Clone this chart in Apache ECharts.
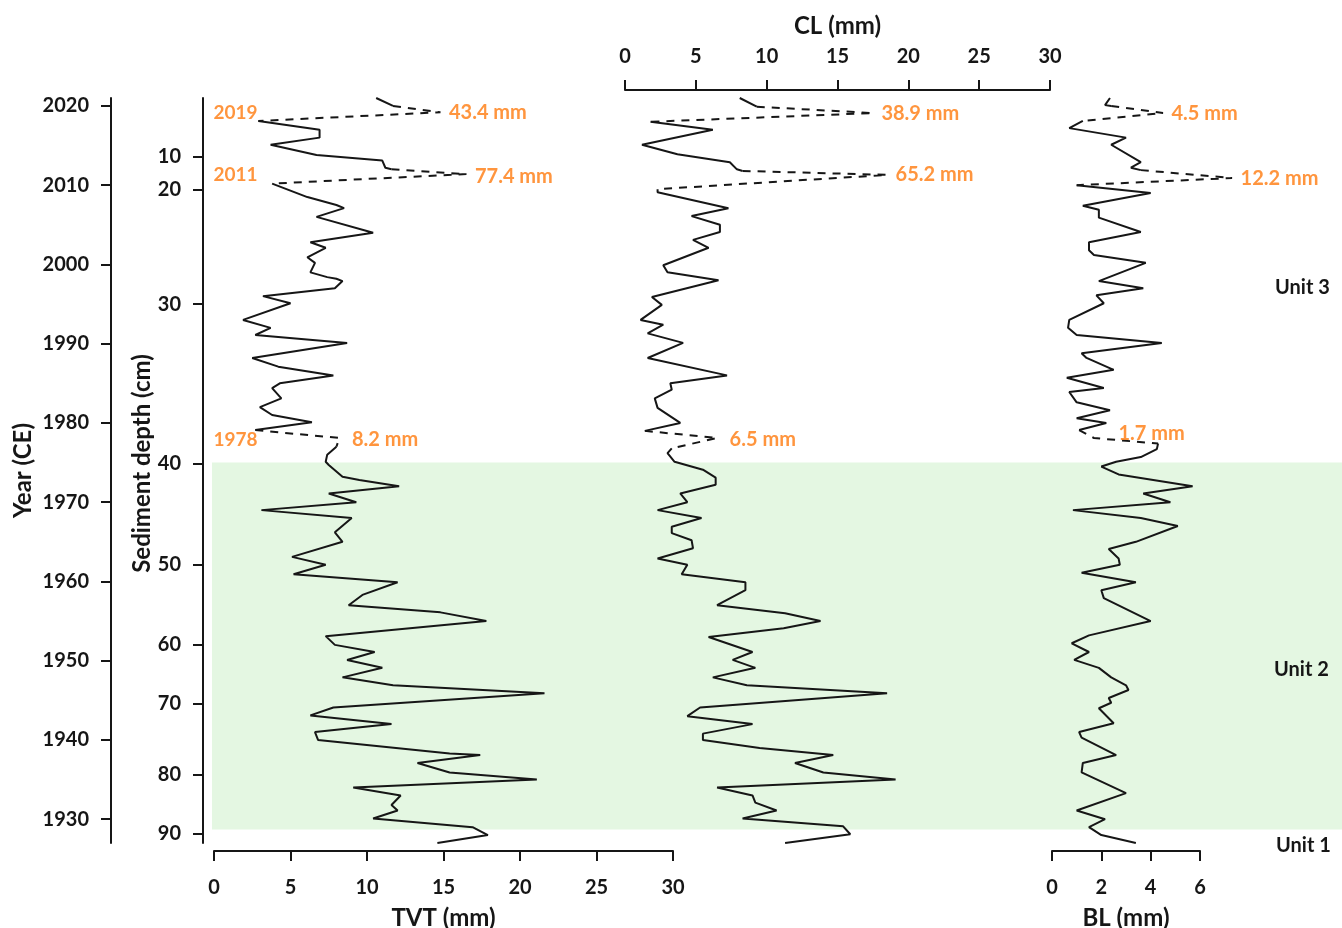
<!DOCTYPE html>
<html>
<head>
<meta charset="utf-8">
<script src="https://cdn.jsdelivr.net/npm/echarts@6/dist/echarts.min.js"></script>
<style>html,body{margin:0;padding:0;background:#fff}#c{width:1342px;height:928px}</style>
</head>
<body>
<div id="c"></div>
<script>
// ---------------- DATA ----------------
// Year (CE) axis ticks
const yearTicks = [1930, 1940, 1950, 1960, 1970, 1980, 1990, 2000, 2010, 2020];
// Sediment depth ticks (cm) and the age (CE) each depth corresponds to (age-depth model)
const depthTicks = [10, 20, 30, 40, 50, 60, 70, 80, 90];
const depthTickYears = [2013.6, 2009.4, 1995.0, 1974.9, 1962.1, 1952.0, 1944.6, 1935.6, 1928.2];

// Event layers
const eventYearLabels = ['2019', '2011', '1978'];
const eventLabelYears = [2019.1, 2011.3, 1977.9];
const tvtEventYears = [2019.2, 2011.4, 1978.1];
const clEventYears = [2019.1, 2011.3, 1978.1];
const blEventYears = [2019.1, 2010.9, 1978.1];
const tvtEventValues = [43.4, 77.4, 8.2];
const clEventValues = [38.9, 65.2, 6.5];
const blEventValues = [4.5, 12.2, 1.7];
// where the pointer of each event ends on the axis (off-scale values are clipped)
const tvtEventShown = [14.8, 16.5, 8.2];
const clEventShown = [17.5, 18.5, 6.5];
const blEventShown = [4.5, 7.3, 1.7];

// Unit 2 (shaded) boundaries in years CE
const unit2Top = 1975.0;
const unit2Bottom = 1928.7;
const unitNames = ['Unit 3', 'Unit 2', 'Unit 1'];

// TVT (mm); null = break at an event layer
const tvtYears = [2021.0, 2020.0, null,
  2018.1, 2017.0, 2016.0, 2015.1, 2013.8, 2013.1, 2012.2, 2012.0, null,
  2010.2, 2008.5, 2007.5, 2007.1, 2006.0, 2004.0, 2002.8, 2002.1, 2000.9, 2000.2, 1999.0, 1998.4, 1998.2, 1997.9, 1997.0, 1996.0, 1995.1, 1993.0, 1992.0, 1991.1, 1990.1, 1988.2, 1987.1, 1986.0, 1985.0, 1984.4, 1983.1, 1982.0, 1981.0, 1980.1, 1979.1, null,
  1977.0, 1976.0, 1975.1, 1974.7, 1973.2, 1972.8, 1972.0, 1971.1, 1970.0, 1969.0, 1968.0, 1966.2, 1965.0, 1963.1, 1962.1, 1960.9, 1959.9, 1958.3, 1957.0, 1956.1, 1955.0, 1953.1, 1952.0, 1951.1, 1950.1, 1949.1, 1947.9, 1946.9, 1945.9, 1944.1, 1943.1, 1942.0, 1941.0, 1940.0, 1938.3, 1938.1, 1937.1, 1935.9, 1935.0, 1934.0, 1933.0, 1931.8, 1931.1, 1930.1, 1929.0, 1928.0, 1927.0];
const tvtValues = [10.6, 11.7, null,
  2.9, 6.9, 6.9, 3.7, 6.7, 11.0, 11.2, 11.6, null,
  3.8, 6.1, 8.0, 8.5, 6.7, 10.4, 6.3, 7.3, 6.1, 6.6, 6.3, 7.4, 8.0, 8.4, 7.9, 3.2, 5.0, 1.9, 3.7, 2.7, 8.7, 2.5, 4.2, 7.8, 4.3, 3.8, 4.4, 3.0, 3.8, 6.4, 2.7, null,
  8.0, 7.4, 7.3, 7.5, 8.4, 9.5, 12.1, 7.5, 9.3, 3.1, 9.0, 7.9, 8.4, 5.1, 7.3, 5.2, 12.0, 9.7, 8.8, 14.8, 17.8, 7.3, 7.9, 10.5, 8.7, 11.0, 8.4, 11.7, 21.6, 7.8, 6.3, 11.6, 6.6, 6.8, 15.4, 17.4, 13.3, 15.4, 21.1, 9.1, 12.2, 11.6, 12.0, 10.4, 16.9, 17.9, 14.6];

// CL (mm)
const clYears = [2021.0, 2019.9, null,
  2018.0, 2017.0, 2015.1, 2013.9, 2012.9, 2012.0, 2011.8, null,
  2009.5, 2009.1, 2007.1, 2006.1, 2005.0, 2004.1, 2003.1, 2002.1, 1999.9, 1999.0, 1998.0, 1995.9, 1994.9, 1993.0, 1992.4, 1991.3, 1990.1, 1988.2, 1986.0, 1985.0, 1984.2, 1983.1, 1981.9, 1980.0, 1979.0, null,
  1976.8, 1976.2, 1975.1, 1974.1, 1973.1, 1972.2, 1971.1, 1970.0, 1969.0, 1968.0, 1966.9, 1966.1, 1965.2, 1964.2, 1962.9, 1962.1, 1960.9, 1959.9, 1958.9, 1957.0, 1956.0, 1955.0, 1954.1, 1953.0, 1951.1, 1950.1, 1949.1, 1947.9, 1946.9, 1945.9, 1944.1, 1943.0, 1942.0, 1940.8, 1940.0, 1939.0, 1938.1, 1937.1, 1935.9, 1935.0, 1934.0, 1933.0, 1932.1, 1931.1, 1930.1, 1929.1, 1928.1, 1927.0];
const clValues = [8.1, 9.3, null,
  1.8, 6.2, 1.2, 3.7, 7.4, 7.9, 8.3, null,
  2.3, 2.3, 7.3, 4.7, 6.7, 6.7, 4.8, 5.9, 2.7, 3.0, 6.6, 1.9, 2.6, 1.1, 2.7, 1.6, 4.1, 1.6, 7.2, 3.2, 3.3, 2.1, 2.3, 3.9, 1.4, null,
  3.3, 3.0, 3.5, 5.5, 6.4, 6.4, 3.9, 4.4, 2.3, 5.4, 3.3, 3.3, 4.7, 4.8, 2.3, 4.4, 4.0, 8.5, 8.5, 6.5, 11.3, 13.8, 11.2, 5.9, 9.0, 7.6, 9.2, 6.2, 8.6, 18.5, 5.3, 4.4, 9.0, 5.5, 5.5, 9.5, 14.7, 12.0, 14.0, 19.1, 6.5, 9.0, 9.2, 10.7, 8.3, 15.4, 15.9, 11.3];

// BL (mm)
const blYears = [2021.0, 2020.1, 2020.0, null,
  2018.1, 2017.2, 2016.0, 2015.1, 2012.9, 2012.2, 2011.9, null,
  2010.0, 2009.0, 2007.4, 2006.9, 2005.9, 2004.1, 2002.8, 2001.8, 2001.2, 2000.2, 1997.9, 1997.0, 1996.1, 1995.1, 1993.0, 1992.0, 1991.1, 1990.1, 1988.8, 1988.2, 1986.7, 1985.7, 1984.4, 1983.9, 1982.6, 1981.6, 1980.6, 1980.0, 1979.1, null,
  1977.4, 1976.7, 1975.7, 1975.1, 1974.5, 1973.5, 1972.0, 1971.1, 1970.0, 1969.0, 1968.0, 1967.0, 1965.0, 1964.1, 1962.9, 1962.1, 1961.1, 1959.9, 1958.9, 1957.9, 1955.0, 1953.2, 1952.2, 1951.1, 1950.1, 1949.1, 1947.9, 1946.9, 1946.3, 1945.3, 1944.7, 1944.0, 1942.1, 1941.0, 1940.3, 1938.1, 1937.1, 1935.9, 1933.3, 1931.1, 1930.0, 1929.0, 1928.0, 1927.0];
const blValues = [2.35, 2.15, 2.4, null,
  1.25, 0.7, 3.0, 2.4, 3.6, 3.2, 3.6, null,
  1.0, 4.0, 1.25, 1.9, 1.9, 3.6, 1.5, 1.5, 1.7, 3.8, 1.9, 3.7, 1.8, 2.1, 0.7, 0.65, 1.0, 4.45, 1.2, 1.4, 2.5, 0.6, 2.1, 0.7, 1.0, 2.35, 1.0, 2.2, 1.1, null,
  4.3, 4.25, 3.6, 2.6, 2.0, 2.7, 5.7, 3.7, 4.8, 0.85, 3.6, 5.1, 3.4, 2.3, 2.7, 2.75, 1.2, 3.4, 2.0, 2.1, 4.0, 1.5, 0.8, 1.5, 0.9, 1.9, 2.4, 3.0, 3.1, 2.3, 2.4, 1.9, 2.5, 1.1, 1.2, 2.6, 1.25, 1.2, 3.0, 1.0, 2.15, 1.5, 2.0, 3.4];

// ---------------- BUILD ----------------
const FONT = 'Lato';
const INK = '#161616';
const ORANGE = '#FF7A0E';

function segments(ys, vs) {
  const segs = [[]];
  ys.forEach((y, i) => {
    if (y === null || vs[i] === null) segs.push([]);
    else segs[segs.length - 1].push([vs[i], y]);
  });
  return segs.filter(s => s.length);
}
function solidData(segs) {
  const out = [];
  segs.forEach((s, k) => { if (k) out.push('-'); s.forEach(p => out.push(p)); });
  return out;
}
function dashedData(segs, shown, evYears) {
  const out = [];
  for (let k = 0; k < shown.length; k++) {
    out.push(segs[k][segs[k].length - 1]);
    out.push([shown[k], evYears[k]]);
    out.push(segs[k + 1][0]);
    out.push('-');
  }
  return out;
}

// xi: axis for the solid line; xe: axis (same scale, may extend further) for event pointers
function makeSeries(xi, xe, yi, ye, ys, vs, shown, evYears, evVals, labelOffsets) {
  const segs = segments(ys, vs);
  return [
    {
      type: 'line', xAxisIndex: xi, yAxisIndex: yi,
      data: solidData(segs), symbol: 'none', showSymbol: false, connectNulls: false,
      lineStyle: { color: INK, width: 2 }, z: 5, clip: false
    },
    {
      type: 'line', xAxisIndex: xe, yAxisIndex: ye,
      data: dashedData(segs, shown, evYears), symbol: 'none', showSymbol: false, connectNulls: false,
      lineStyle: { color: INK, width: 2, type: [8, 7] }, z: 5, clip: false
    },
    {
      type: 'scatter', xAxisIndex: xe, yAxisIndex: ye,
      symbolSize: 1, itemStyle: { color: 'rgba(0,0,0,0)' }, clip: false, z: 6,
      data: shown.map((v, k) => ({
        value: [v, evYears[k]],
        label: { offset: labelOffsets[k] }
      })),
      label: {
        show: true, position: 'right', distance: 8, color: ORANGE,
        fontFamily: FONT, fontWeight: 'bold', fontSize: 20,
        formatter: p => evVals[p.dataIndex].toFixed(1) + ' mm'
      }
    }
  ];
}

const axisLine = { show: true, onZero: false, lineStyle: { color: INK, width: 2 } };
const axisTick = { show: true, length: 10, lineStyle: { color: INK, width: 2 } };
const labelStyle = { color: INK, fontFamily: FONT, fontWeight: 'bold', fontSize: 20 };
const nameStyle = { color: INK, fontFamily: FONT, fontWeight: 'bold', fontSize: 24 };

const YMIN = 1927, YMAX = 2021;
const TOP = 98, BOTTOM = 85;
const gridBase = { top: TOP, bottom: BOTTOM, containLabel: false, outerBoundsMode: 'none' };

const series = [
  {
    type: 'line', xAxisIndex: 3, yAxisIndex: 4, data: [[0, unit2Top]], symbol: 'none',
    lineStyle: { opacity: 0 }, silent: true, z: 0,
    markArea: {
      silent: true, itemStyle: { color: '#E4F7E2' },
      data: [[{ yAxis: unit2Top }, { yAxis: unit2Bottom }]]
    }
  },
  {
    type: 'scatter', xAxisIndex: 0, yAxisIndex: 0, symbolSize: 1, clip: false, z: 6,
    itemStyle: { color: 'rgba(0,0,0,0)' },
    data: eventLabelYears.map(y => [0, y]),
    label: {
      show: true, position: 'right', distance: -1, color: ORANGE,
      fontFamily: FONT, fontWeight: 'bold', fontSize: 19,
      formatter: p => eventYearLabels[p.dataIndex]
    }
  },
  ...makeSeries(0, 0, 0, 0, tvtYears, tvtValues, tvtEventShown, tvtEventYears, tvtEventValues, [[0, 0], [0, 2], [4, 2]]),
  ...makeSeries(1, 1, 2, 2, clYears, clValues, clEventShown, clEventYears, clEventValues, [[0, 0], [0, 0], [4, 2]]),
  ...makeSeries(2, 4, 3, 5, blYears, blValues, blEventShown, blEventYears, blEventValues, [[0, 0], [0, 0], [16, -4]])
];

const depthLabel = v => {
  const i = depthTickYears.findIndex(y => Math.abs(y - v) < 1e-6);
  return i >= 0 ? String(depthTicks[i]) : '';
};

const option = {
  animation: false,
  backgroundColor: '#fff',
  grid: [
    { ...gridBase, left: 214, width: 459 },
    { ...gridBase, left: 625, width: 425 },
    { ...gridBase, left: 1052, width: 148 },
    { ...gridBase, left: 212, right: 0 },
    // same BL scale (24.67 px/mm) extended to 8 mm, for off-scale event pointers
    { ...gridBase, left: 1052, width: 148 * 8 / 6 }
  ],
  xAxis: [
    {
      gridIndex: 0, type: 'value', min: 0, max: 30, interval: 5, position: 'bottom', offset: 8,
      axisLine, axisTick, splitLine: { show: false },
      axisLabel: { ...labelStyle, margin: 27 },
      name: 'TVT (mm)', nameLocation: 'middle', nameGap: 55, nameTextStyle: nameStyle
    },
    {
      gridIndex: 1, type: 'value', min: 0, max: 30, interval: 5, position: 'top', offset: 8,
      axisLine, axisTick, splitLine: { show: false },
      axisLabel: { ...labelStyle, margin: 23 },
      name: 'CL (mm)', nameLocation: 'middle', nameGap: 52, nameTextStyle: nameStyle
    },
    {
      gridIndex: 2, type: 'value', min: 0, max: 6, interval: 2, position: 'bottom', offset: 8,
      axisLine, axisTick, splitLine: { show: false },
      axisLabel: { ...labelStyle, margin: 27 },
      name: 'BL (mm)', nameLocation: 'middle', nameGap: 55, nameTextStyle: nameStyle
    },
    { gridIndex: 3, type: 'value', min: 0, max: 1, show: false },
    { gridIndex: 4, type: 'value', min: 0, max: 8, show: false }
  ],
  yAxis: [
    {
      gridIndex: 0, type: 'value', min: YMIN, max: YMAX, position: 'left', offset: 103,
      axisLine, splitLine: { show: false },
      axisTick: { ...axisTick, customValues: yearTicks },
      axisLabel: { ...labelStyle, margin: 22, customValues: yearTicks, formatter: v => String(v) },
      name: 'Year (CE)', nameLocation: 'middle', nameRotate: 90, nameGap: 76, nameTextStyle: nameStyle
    },
    {
      gridIndex: 0, type: 'value', min: YMIN, max: YMAX, position: 'left', offset: 11,
      axisLine, splitLine: { show: false },
      axisTick: { ...axisTick, customValues: depthTickYears },
      axisLabel: { ...labelStyle, margin: 22, customValues: depthTickYears, formatter: depthLabel },
      name: 'Sediment depth (cm)', nameLocation: 'middle', nameRotate: 90, nameGap: 48,
      nameTextStyle: { ...nameStyle, padding: [0, 0, 0, 14] }
    },
    { gridIndex: 1, type: 'value', min: YMIN, max: YMAX, show: false },
    { gridIndex: 2, type: 'value', min: YMIN, max: YMAX, show: false },
    { gridIndex: 3, type: 'value', min: YMIN, max: YMAX, show: false },
    { gridIndex: 4, type: 'value', min: YMIN, max: YMAX, show: false }
  ],
  graphic: [
    { type: 'text', z: 100, left: 1275, top: 278, style: { text: unitNames[0], fill: INK, font: 'bold 20px Lato' } },
    { type: 'text', z: 100, left: 1274, top: 660, style: { text: unitNames[1], fill: INK, font: 'bold 20px Lato' } },
    { type: 'text', z: 100, left: 1276, top: 836, style: { text: unitNames[2], fill: INK, font: 'bold 20px Lato' } }
  ],
  series
};

const chart = echarts.init(document.getElementById('c'), null, { renderer: 'canvas' });
chart.setOption(option);
</script>
</body>
</html>
